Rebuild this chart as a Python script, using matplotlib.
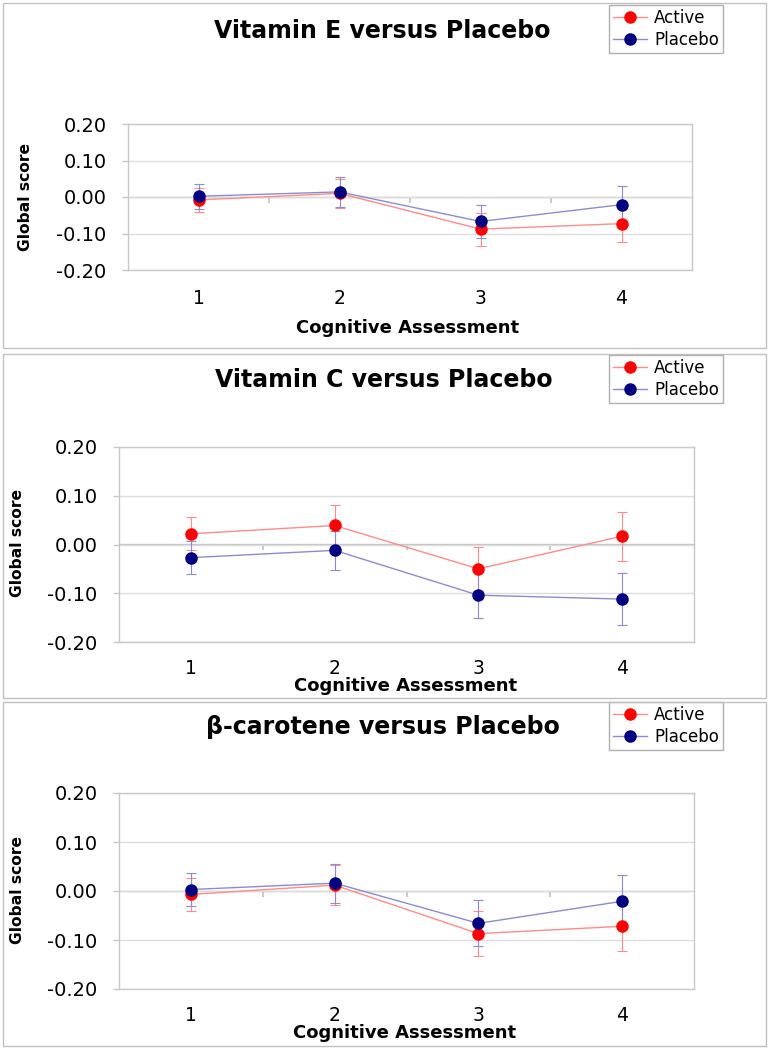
import matplotlib
matplotlib.use("Agg")
import matplotlib.pyplot as plt
from matplotlib.patches import Rectangle
from matplotlib.lines import Line2D

plt.rcParams['font.family'] = ['DejaVu Sans']
plt.rcParams['axes.unicode_minus'] = False

# ---- data ----
categories = [1, 2, 3, 4]
tick_labels = ["1", "2", "3", "4"]
y_ticks = [-0.20, -0.10, 0.00, 0.10, 0.20]
titles = ["Vitamin E versus Placebo", "Vitamin C versus Placebo", "β-carotene versus Placebo"]
series_names = ["Active", "Placebo"]

vitE_active = [-0.008, 0.010, -0.088, -0.073]
vitE_active_err = [0.033, 0.040, 0.045, 0.051]
vitE_placebo = [0.002, 0.014, -0.067, -0.021]
vitE_placebo_err = [0.034, 0.041, 0.046, 0.051]

vitC_active = [0.022, 0.039, -0.050, 0.017]
vitC_active_err = [0.034, 0.042, 0.045, 0.050]
vitC_placebo = [-0.027, -0.012, -0.104, -0.112]
vitC_placebo_err = [0.034, 0.040, 0.047, 0.053]

beta_active = [-0.007, 0.012, -0.087, -0.072]
beta_active_err = [0.034, 0.041, 0.046, 0.051]
beta_placebo = [0.003, 0.016, -0.066, -0.021]
beta_placebo_err = [0.033, 0.040, 0.047, 0.053]

panels_data = [
    (vitE_active, vitE_active_err, vitE_placebo, vitE_placebo_err),
    (vitC_active, vitC_active_err, vitC_placebo, vitC_placebo_err),
    (beta_active, beta_active_err, beta_placebo, beta_placebo_err),
]

# ---- layout (pixels, y measured from top) ----
W, H = 769, 1050
fig = plt.figure(figsize=(W / 100, H / 100), dpi=100)

def fx(x):
    return x / W

def fy(y):
    return 1 - y / H

layout = [
    dict(box=(3, 3, 766, 348), ax=(128, 124, 692, 270), title=(382, 31), xlab=(408, 328),
         xpad=14, ylab=(26, 197), legend=(609, 5)),
    dict(box=(3, 354, 766, 698), ax=(119, 447, 694, 642), title=(384, 380), xlab=(406, 686),
         xpad=12.5, ylab=(18, 543), legend=(609, 355)),
    dict(box=(3, 702, 766, 1046), ax=(119, 793, 694, 989), title=(383, 727), xlab=(405, 1033),
         xpad=12.5, ylab=(18, 890), legend=(609, 702)),
]

active_mk = "#FF0000"
active_ln = "#FF8C8C"
placebo_mk = "#000080"
placebo_ln = "#8C8CCC"
frame_col = "#C8C8C8"
grid_col = "#DCDCDC"

for i, (lay, data, title) in enumerate(zip(layout, panels_data, titles)):
    a, ae, p, pe = data
    bx0, by0, bx1, by1 = lay["box"]
    fig.patches.append(Rectangle((fx(bx0), fy(by1)), fx(bx1) - fx(bx0), fy(by0) - fy(by1),
                                 transform=fig.transFigure, fill=False,
                                 edgecolor="#C0C0C0", linewidth=1.0))
    x0, y0, x1, y1 = lay["ax"]
    ax = fig.add_axes([fx(x0), fy(y1), fx(x1) - fx(x0), fy(y0) - fy(y1)])
    ax.set_xlim(0.5, 4.5)
    ax.set_ylim(-0.2, 0.2)
    ax.set_yticks(y_ticks)
    ax.set_yticklabels([f"{v:.2f}" for v in y_ticks])
    ax.set_xticks(categories)
    ax.set_xticklabels(tick_labels)
    ax.yaxis.grid(True, color=grid_col, linewidth=1.0)
    ax.set_axisbelow(True)
    for s in ax.spines.values():
        s.set_color(frame_col)
        s.set_linewidth(1.0)
    ax.tick_params(axis='x', length=0, pad=lay["xpad"], labelsize=13.5)
    ax.tick_params(axis='y', length=4.5, width=1.0, color=frame_col, direction='out', pad=11,
                   labelsize=14)

    # category-boundary ticks along the zero line
    sec = ax.secondary_xaxis(0.5)
    sec.set_xticks([1.5, 2.5, 3.5])
    sec.set_xticklabels([])
    sec.tick_params(axis='x', length=4, width=1.2, color="#C0C0C0", direction='in')
    for s in sec.spines.values():
        s.set_color("#C4C4C4")
        s.set_linewidth(1.0)

    ax.errorbar(categories, a, yerr=ae, fmt='none', ecolor=active_ln, elinewidth=0.8,
                capsize=3.5, capthick=0.8, zorder=2)
    ax.errorbar(categories, p, yerr=pe, fmt='none', ecolor=placebo_ln, elinewidth=0.8,
                capsize=3.5, capthick=0.8, zorder=2)
    ax.plot(categories, a, color=active_ln, linewidth=1.0, zorder=3)
    ax.plot(categories, p, color=placebo_ln, linewidth=1.0, zorder=3)
    ax.plot(categories, a, linestyle='none', marker='o', markersize=8,
            color=active_mk, zorder=4)
    ax.plot(categories, p, linestyle='none', marker='o', markersize=8,
            color=placebo_mk, zorder=5)

    # legend proxies (line + marker)
    lh1 = Line2D([], [], color=active_ln, linewidth=1.0, marker='o', markersize=8,
                 markerfacecolor=active_mk, markeredgecolor=active_mk)
    lh2 = Line2D([], [], color=placebo_ln, linewidth=1.0, marker='o', markersize=8,
                 markerfacecolor=placebo_mk, markeredgecolor=placebo_mk)
    lx, ly = lay["legend"]
    leg = ax.legend([lh1, lh2], series_names, loc='upper left',
                    bbox_to_anchor=(fx(lx), fy(ly)), bbox_transform=fig.transFigure,
                    fontsize=12, frameon=True, fancybox=False, framealpha=1,
                    edgecolor="#B0B0B0", borderpad=0.25, labelspacing=0.22,
                    handlelength=2.0, handletextpad=0.45, borderaxespad=0)
    leg.get_frame().set_linewidth(1.0)

    # title and axis labels
    tx, ty = lay["title"]
    fig.text(fx(tx), fy(ty), title, ha='center', va='center', fontsize=17,
             fontweight='bold')
    xlx, xly = lay["xlab"]
    fig.text(fx(xlx), fy(xly), "Cognitive Assessment", ha='center', va='center',
             fontsize=13, fontweight='bold')
    ylx, yly = lay["ylab"]
    fig.text(fx(ylx), fy(yly), "Global score", ha='center', va='center', rotation=90,
             fontsize=11.2, fontweight='bold')

fig.savefig("out.png", dpi=100)
